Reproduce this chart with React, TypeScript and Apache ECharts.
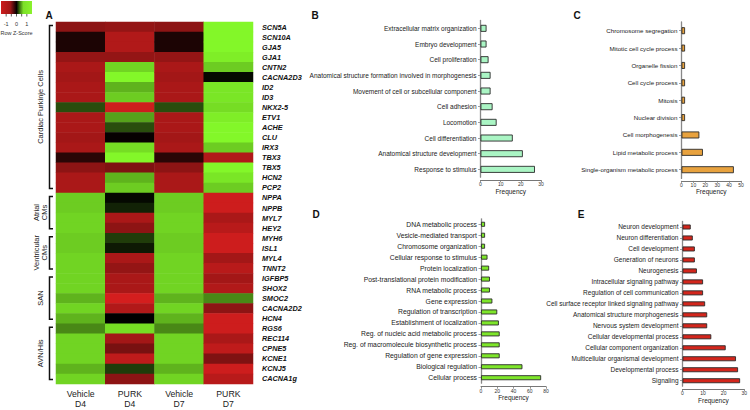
import React, { useEffect, useRef } from "react";
import * as echarts from "echarts";

// ---------- Heatmap data (row Z-scores) ----------
const samples = ["Vehicle\nD4", "PURK\nD4", "Vehicle\nD7", "PURK\nD7"];
const genes = [
  "SCN5A", "SCN10A", "GJA5", "GJA1", "CNTN2", "CACNA2D3", "ID2", "ID3", "NKX2-5", "ETV1",
  "ACHE", "CLU", "IRX3", "TBX3", "TBX5", "HCN2", "PCP2", "NPPA", "NPPB", "MYL7",
  "HEY2", "MYH6", "ISL1", "MYL4", "TNNT2", "IGFBP5", "SHOX2", "SMOC2", "CACNA2D2", "HCN4",
  "RGS6", "REC114", "CPNE5", "KCNE1", "KCNJ5", "CACNA1g",
];
const vehicleD4 = [
  -1.0, -0.2, -0.2, -1.05, -1.2, -1.15, -1.2, -1.2, 0.45, -1.2,
  -1.2, -1.15, -1.2, -0.3, -1.0, -1.2, -1.2, 1.2, 1.2, 1.25,
  1.25, 1.2, 1.2, 1.25, 1.25, 1.25, 1.25, 1.05, 1.25, 1.05,
  0.8, 1.25, 1.25, 1.25, 1.05, 1.25,
];
const purkD4 = [
  -1.05, -1.25, -1.25, -1.05, 1.25, 1.45, 1.05, 1.2, -1.45, 0.95,
  0.45, -0.05, 1.3, 1.45, -0.9, 1.05, 1.2, 0.05, 0.2, -1.2,
  -1.0, 0.35, 0.15, -1.2, -1.05, -1.2, -1.2, -1.5, -1.25, 0.0,
  1.3, -1.15, -0.85, -1.35, 0.35, -1.0,
];
const vehicleD7 = [
  -1.0, -0.2, -0.2, -1.05, -1.2, -1.15, -1.2, -1.2, 0.45, -1.2,
  -1.2, -1.15, -1.2, -0.3, -1.0, -1.2, -1.2, 1.2, 1.2, 1.25,
  1.25, 1.2, 1.2, 1.25, 1.25, 1.25, 1.25, 1.05, 1.25, 1.05,
  0.8, 1.25, 1.25, 1.25, 1.05, 1.25,
];
const purkD7 = [
  1.45, 1.45, 1.45, 1.4, 1.2, 0.05, 1.35, 1.35, 1.3, 1.4,
  1.45, 1.45, 1.2, -1.25, 1.45, 1.35, 1.2, -1.45, -1.45, -1.2,
  -1.3, -1.45, -1.45, -1.15, -1.3, -1.15, -1.25, 0.8, -1.0, -1.45,
  -1.45, -1.2, -1.35, -0.9, -1.45, -1.3,
];
const sampleValues = [vehicleD4, purkD4, vehicleD7, purkD7];

const groupNames = ["Cardiac Purkinje Cells", "Atrial\nCMs", "Ventricular\nCMs", "SAN", "AVN/His"];
const groupSizes = [17, 4, 4, 5, 6];

const legendTicks = [-1, 0, 1];
const legendMinorTicks = [-1, -0.5, 0, 0.5, 1];

// ---------- GO term data ----------
const bTerms = [
  "Extracellular matrix organization", "Embryo development", "Cell proliferation",
  "Anatomical structure formation involved in morphogenesis", "Movement of cell or subcellular component",
  "Cell adhesion", "Locomotion", "Cell differentiation", "Anatomical structure development", "Response to stimulus",
];
const bFreq = [3, 3, 4, 5, 5, 6, 8, 16, 21, 27];

const cTerms = [
  "Chromosome segregation", "Mitotic cell cycle process", "Organelle fission", "Cell cycle process",
  "Mitosis", "Nuclear division", "Cell morphogenesis", "Lipid metabolic process", "Single-organism metabolic process",
];
const cFreq = [3, 3, 3, 3, 3, 3, 15, 18, 44];

const dTerms = [
  "DNA metabolic process", "Vesicle-mediated transport", "Chromosome organization", "Cellular response to stimulus",
  "Protein localization", "Post-translational protein modification", "RNA metabolic process", "Gene expression",
  "Regulation of transcription", "Establishment of localization", "Reg. of nucleic acid metabolic process",
  "Reg. of macromolecule biosynthetic process", "Regulation of gene expression", "Biological regulation", "Cellular process",
];
const dFreq = [5, 5, 5, 8, 10, 11, 11, 14, 20, 22, 23, 23, 23, 51, 74];

const eTerms = [
  "Neuron development", "Neuron differentiation", "Cell development", "Generation of neurons", "Neurogenesis",
  "Intracellular signaling pathway", "Regulation of cell communication", "Cell surface receptor linked signaling pathway",
  "Anatomical structure morphogenesis", "Nervous system development", "Cellular developmental process",
  "Cellular component organization", "Multicellular organismal development", "Developmental process", "Signaling",
];
const eFreq = [4, 5, 6, 6, 7, 10, 10, 11, 12, 12, 14, 21, 26, 27, 28];

const FONT = "'Liberation Sans', Arial, Helvetica, sans-serif";

export default function App() {
  const ref = useRef<HTMLDivElement>(null);

  useEffect(() => {
    document.body.style.margin = "0";
    if (!ref.current) return;
    const chart = echarts.init(ref.current, undefined, { renderer: "svg" });

    // heatmap geometry
    const hm = { left: 56, top: 22, width: 197, height: 362 };
    const rowH = hm.height / genes.length;

    const heatData: number[][] = [];
    sampleValues.forEach((vals, s) => vals.forEach((v, g) => heatData.push([s, g, v])));

    const panels = [
      { terms: bTerms, freq: bFreq, color: "#aaf5c4", max: 30, interval: 10, grid: { left: 480.5, top: 20.5, width: 60.5, height: 156.7 }, fs: 6.5, bw: 7, off: 3 },
      { terms: cTerms, freq: cFreq, color: "#e8a23e", max: 50, interval: 10, grid: { left: 681.5, top: 22, width: 59.5, height: 156.4 }, fs: 6.2, bw: 7, off: 2.5 },
      { terms: dTerms, freq: dFreq, color: "#7ee62a", max: 80, interval: 20, grid: { left: 481, top: 218.8, width: 65, height: 164.4 }, fs: 6.8, bw: 5, off: 3.5 },
      { terms: eTerms, freq: eFreq, color: "#d3261c", max: 30, interval: 10, grid: { left: 682.5, top: 221.5, width: 62, height: 164.7 }, fs: 6.5, bw: 5, off: 3 },
    ];

    const grids: any[] = [hm, ...panels.map((p) => p.grid)];
    const xAxes: any[] = [
      {
        type: "category", gridIndex: 0, data: samples, position: "bottom",
        axisLine: { show: false }, axisTick: { show: false }, splitLine: { show: false },
        axisLabel: { fontSize: 8.7, lineHeight: 10, color: "#222", margin: 5, interval: 0, fontFamily: FONT },
      },
    ];
    const yAxes: any[] = [
      {
        type: "category", gridIndex: 0, data: genes, inverse: true, position: "right",
        axisLine: { show: false }, axisTick: { show: false }, splitLine: { show: false },
        axisLabel: { fontSize: 7.3, fontWeight: "bold", fontStyle: "italic", color: "#111", margin: 9, interval: 0, fontFamily: FONT },
      },
    ];
    const series: any[] = [
      {
        type: "heatmap", xAxisIndex: 0, yAxisIndex: 0, data: heatData, silent: true,
        itemStyle: { borderWidth: 0 },
      },
    ];

    panels.forEach((p, i) => {
      const gi = i + 1;
      xAxes.push({
        type: "value", gridIndex: gi, min: 0, max: p.max, interval: p.interval, offset: p.off,
        axisLine: { show: true, lineStyle: { color: "#777", width: 1 } },
        axisTick: { show: true, length: 2, lineStyle: { color: "#777", width: 0.8 } },
        axisLabel: { fontSize: 5, color: "#333", margin: 1.5, fontFamily: FONT },
        splitLine: { show: false },
        name: "Frequency", nameLocation: "middle", nameGap: 7.5,
        nameTextStyle: { fontSize: 6.5, color: "#222", fontFamily: FONT },
      });
      yAxes.push({
        type: "category", gridIndex: gi, data: p.terms, inverse: true,
        axisLine: { show: true, lineStyle: { color: "#888", width: 1.3 } },
        axisTick: { show: true, alignWithLabel: true, length: 2.5, lineStyle: { color: "#888", width: 0.8 } },
        axisLabel: { fontSize: p.fs, color: "#222", margin: 4, interval: 0, fontFamily: FONT },
        splitLine: { show: false },
      });
      series.push({
        type: "bar", xAxisIndex: gi, yAxisIndex: gi, data: p.freq, barWidth: p.bw, silent: true,
        itemStyle: { color: p.color, borderColor: "#2a2a2a", borderWidth: 0.9 },
      });
    });

    // graphic: legend, panel letters, group brackets
    const graphic: any[] = [];
    const lg = { x: 1, y: 1, w: 31, h: 13 };
    const lgScale = (v: number) => lg.x + lg.w / 2 + (v * lg.w) / 3;
    graphic.push({
      type: "rect", shape: { x: lg.x, y: lg.y, width: lg.w, height: lg.h }, silent: true,
      style: {
        fill: new echarts.graphic.LinearGradient(0, 0, 1, 0, [
          { offset: 0, color: "#cc1c1c" },
          { offset: 0.3, color: "#a01818" },
          { offset: 0.5, color: "#080000" },
          { offset: 0.6, color: "#3a7010" },
          { offset: 0.72, color: "#7ce028" },
          { offset: 1, color: "#8af22c" },
        ]),
      },
    });
    legendMinorTicks.forEach((t) => {
      const x = lgScale(t);
      graphic.push({ type: "line", silent: true, shape: { x1: x, y1: lg.y + lg.h, x2: x, y2: lg.y + lg.h + 2.5 }, style: { stroke: "#333", lineWidth: 0.8 } });
    });
    legendTicks.forEach((t) => {
      graphic.push({ type: "text", silent: true, x: lgScale(t), y: 24, style: { text: String(t), fontSize: 5.5, fill: "#333", align: "center", verticalAlign: "middle", fontFamily: FONT } });
    });
    graphic.push({ type: "text", silent: true, x: lg.x + lg.w / 2, y: 32.5, style: { text: "Row Z-Score", fontSize: 5.5, fill: "#333", align: "center", verticalAlign: "middle", fontFamily: FONT } });

    const letters = [
      { t: "A", x: 49, y: 15.5 },
      { t: "B", x: 315, y: 15 },
      { t: "C", x: 577, y: 15 },
      { t: "D", x: 316, y: 214 },
      { t: "E", x: 581, y: 214 },
    ];
    letters.forEach((l) => {
      graphic.push({ type: "text", silent: true, x: l.x, y: l.y, style: { text: l.t, fontSize: 10, fontWeight: "bold", fill: "#111", align: "center", verticalAlign: "middle", fontFamily: FONT } });
    });

    let start = 0;
    groupSizes.forEach((n, gi) => {
      const y0 = hm.top + start * rowH + 3.5;
      const y1 = hm.top + (start + n) * rowH - 4.5;
      start += n;
      graphic.push({
        type: "polyline", silent: true,
        shape: { points: [[53, y0], [49.5, y0], [49.5, y1], [53, y1]] },
        style: { stroke: "#111", lineWidth: 1.5, fill: null },
      });
      graphic.push({
        type: "text", silent: true, x: 40.5, y: (y0 + y1) / 2, rotation: Math.PI / 2,
        style: { text: groupNames[gi], fontSize: 7.5, lineHeight: 7.5, fill: "#222", align: "center", verticalAlign: "middle", fontFamily: FONT },
      });
    });

    chart.setOption({
      animation: false,
      textStyle: { fontFamily: FONT },
      grid: grids,
      xAxis: xAxes,
      yAxis: yAxes,
      visualMap: {
        type: "continuous", show: false, min: -1.5, max: 1.5, seriesIndex: 0, dimension: 2,
        inRange: { color: ["#d41e1e", "#000000", "#88ff2a"] },
      },
      series,
      graphic,
    });

    return () => chart.dispose();
  }, []);

  return (
    <div
      ref={ref}
      style={{ position: "absolute", left: 0, top: 0, width: 750, height: 410, background: "#fff" }}
    />
  );
}
